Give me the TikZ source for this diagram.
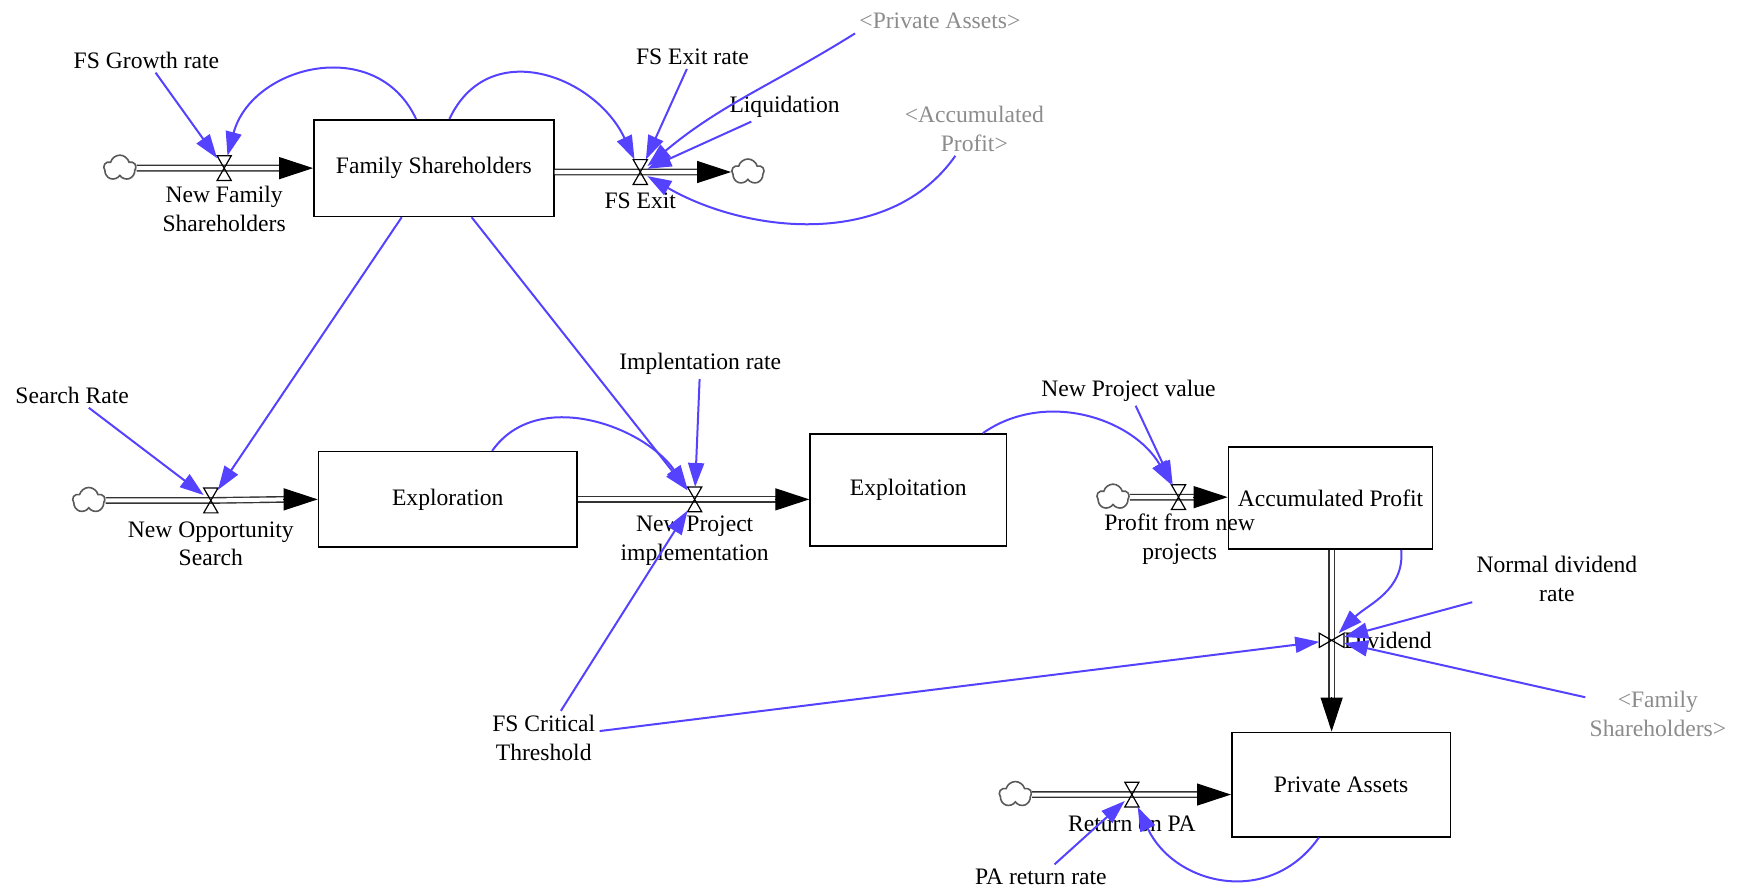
\documentclass[tikz,border=0pt]{standalone}
\usepackage{fontspec}
\setmainfont{Liberation Serif}
\usetikzlibrary{arrows.meta,calc,shapes.symbols}
\definecolor{linkblue}{RGB}{84,66,255}
\definecolor{ghostgray}{RGB}{140,140,140}
\begin{document}
\begin{tikzpicture}[x=0.555pt, y=0.555pt, >={Triangle[length=12pt,width=8pt]},
  font=\fontsize{11.8}{14.4}\selectfont,
  stock/.style={draw, line width=0.8pt, inner sep=0pt},
  source/.style={cloud, cloud puffs=5, draw=black!65, line width=0.8pt, minimum width=16pt, minimum height=13pt, inner sep=0pt, aspect=1.2},
  valve/.style={minimum width=6.7pt, minimum height=12pt, inner sep=0pt},
  valvev/.style={minimum width=12pt, minimum height=6.7pt, inner sep=0pt},
  pipe/.style={draw=black!80, line width=0.7pt, double=white, double distance=2pt},
  flowhead/.style={-{Triangle[length=17pt,width=11pt]}, line width=0.6pt},
  link/.style={->, draw=linkblue, line width=1pt},
  lbl/.style={align=center, inner sep=2pt},
  ghost/.style={lbl, text=ghostgray}]
\useasboundingbox (0,0) rectangle (1568,-800);

\node[stock, minimum width=120pt, minimum height=48.3pt] (fam) at (391,-151.5) {Family Shareholders};
\node[stock, minimum width=129.3pt, minimum height=47.7pt] (exr) at (403.5,-450) {Exploration};
\node[stock, minimum width=98.2pt, minimum height=56pt] (exp) at (818.5,-441.5) {Exploitation};
\node[stock, minimum width=102.1pt, minimum height=51pt] (ap) at (1199,-449) {Accumulated Profit};
\node[stock, minimum width=109.3pt, minimum height=52.2pt] (pa) at (1208.5,-707) {Private Assets};

\node[source] (c1) at (108,-151.5) {};
\node[source] (c2) at (674,-155) {};
\node[source] (c3) at (80,-451) {};
\node[source] (c4) at (1003,-448) {};
\node[source] (c5) at (915,-716) {};

\node[valve] (nfs) at (202,-151.5) {};
\node[valve] (fex) at (577,-155) {};
\node[valve] (nos) at (190,-451) {};
\node[valve] (npi) at (626,-450) {};
\node[valve] (pf) at (1062,-448) {};
\node[valvev] (div) at (1200,-577) {};
\node[valve] (ret) at (1020,-716) {};

\node[lbl] (nfsl) at (202,-188) {New Family\\Shareholders};
\node[lbl] (fexl) at (577,-181) {FS Exit};
\node[lbl] (nosl) at (190,-490) {New Opportunity\\Search};
\node[lbl] (npil) at (626,-487) {New Project\\implementation};
\node[lbl] (pfl) at (1063,-486) {Profit from new\\projects};
\node[lbl, anchor=west] (divl) at (1207,-577) {Dividend};
\node[lbl] (retl) at (1020,-742) {Return on PA};

\node[lbl] (fsgr) at (132,-54) {FS Growth rate};
\node[lbl] (fser) at (624,-51) {FS Exit rate};
\node[lbl] (liq) at (707,-96) {Liquidation};
\node[ghost] (pas) at (847,-19) {<Private Assets>};
\node[ghost] (acp) at (878,-116) {<Accumulated\\Profit>};
\node[lbl] (srate) at (65,-356) {Search Rate};
\node[lbl] (irate) at (631,-328) {Implentation rate};
\node[lbl] (npv) at (1017,-352) {New Project value};
\node[lbl] (ndr) at (1403,-522) {Normal dividend\\rate};
\node[ghost] (fsh) at (1494,-643) {<Family\\Shareholders>};
\node[lbl] (fsct) at (490,-665) {FS Critical\\Threshold};
\node[lbl] (parr) at (938,-790) {PA return rate};

\draw[pipe] (c1) -- (nfs.center) -- ($(fam.west)+(-30,0)$);
\draw[flowhead] ($(fam.west)+(-31,0)$) -- (fam.west);
\draw[pipe] (fam.east |- fex.center) -- (fex.center) -- ($(c2.west)+(-30,0)$);
\draw[flowhead] ($(c2.west)+(-31,0)$) -- (c2.west);
\draw[pipe] (c3) -- (nos.center) -- ($(exr.west)+(-30,0)$);
\draw[flowhead] ($(exr.west)+(-31,0)$) -- (exr.west);
\draw[pipe] (exr.east |- npi.center) -- (npi.center) -- ($(exp.west |- npi.center)+(-30,0)$);
\draw[flowhead] ($(exp.west |- npi.center)+(-31,0)$) -- (exp.west |- npi.center);
\draw[pipe] (c4) -- (pf.center) -- ($(ap.west |- pf.center)+(-30,0)$);
\draw[flowhead] ($(ap.west |- pf.center)+(-31,0)$) -- (ap.west |- pf.center);
\draw[pipe] (ap.south -| div.center) -- (div.center) -- ($(pa.north -| div.center)+(0,30)$);
\draw[flowhead] ($(pa.north -| div.center)+(0,31)$) -- (pa.north -| div.center);
\draw[pipe] (c5) -- (ret.center) -- ($(pa.west |- ret.center)+(-30,0)$);
\draw[flowhead] ($(pa.west |- ret.center)+(-31,0)$) -- (pa.west |- ret.center);

\foreach \v in {nfs,fex,nos,npi,pf,ret}
  \draw[line width=0.6pt] (\v.north west) -- (\v.north east) -- (\v.south west) -- (\v.south east) -- cycle;
\draw[line width=0.6pt] (div.north west) -- (div.south west) -- (div.north east) -- (div.south east) -- cycle;

\draw[link] (fsgr) -- (nfs);
\draw[link] ($(fam.north)+(-16,0)$) to[out=115,in=75,looseness=1.25] (nfs);
\draw[link] ($(fam.north)+(14,0)$) to[out=65,in=115,looseness=1.25] (fex);
\draw[link] (fser) -- (fex);
\draw[link] (pas.south west) to[out=212,in=40] (fex);
\draw[link] (liq) -- (fex);
\draw[link] (acp) to[out=235,in=-30,looseness=0.95] (fex);
\draw[link] ($(fam.south)+(-29,0)$) -- (nos);
\draw[link] ($(fam.south)+(34,0)$) -- (npi);
\draw[link] (srate) -- (nos);
\draw[link] ($(exr.north)+(40,0)$) to[out=55,in=125] (npi);
\draw[link] (irate) -- (npi);
\draw[link] (fsct) -- (npi);
\draw[link] (fsct) -- (div);
\draw[link] ($(exp.north east)+(-22,0)$) to[out=35,in=120] (pf);
\draw[link] (npv) -- (pf);
\draw[link] ($(ap.south east)+(-29,0)$) to[out=-85,in=45] (div);
\draw[link] (ndr) -- (div);
\draw[link] (fsh) -- (div);
\draw[link] (parr) -- (ret);
\draw[link] ($(pa.south)+(-20,0)$) to[out=-125,in=-65,looseness=1.2] (ret);
\end{tikzpicture}
\end{document}
